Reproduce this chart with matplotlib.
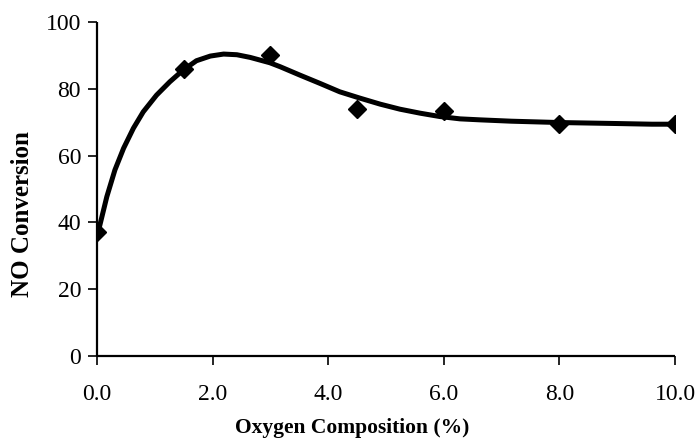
import matplotlib
matplotlib.use("Agg")
import matplotlib.pyplot as plt

# measured data points
oxygen = [0.0, 1.5, 3.0, 4.5, 6.0, 8.0, 10.0]
no_conv = [37.2, 85.8, 90.1, 74.0, 73.5, 69.6, 69.6]

# trend curve
curve_x = [0.0, 0.04, 0.17, 0.31, 0.46, 0.63, 0.80, 1.03, 1.26, 1.49, 1.72,
           1.96, 2.19, 2.42, 2.65, 2.99, 3.17, 3.51, 3.86, 4.20, 4.55, 4.90,
           5.24, 5.59, 5.93, 6.28, 6.63, 7.17, 8.0, 9.0, 9.6, 10.0]
curve_y = [37.2, 38.5, 47.7, 55.7, 62.2, 68.2, 73.1, 78.1, 82.1, 85.6, 88.4,
           89.8, 90.4, 90.2, 89.4, 87.8, 86.6, 84.1, 81.6, 79.1, 77.2, 75.4,
           73.9, 72.7, 71.7, 71.0, 70.7, 70.3, 69.9, 69.6, 69.4, 69.4]

xticks = [0, 2, 4, 6, 8, 10]
xticklabels = ["0.0", "2.0", "4.0", "6.0", "8.0", "10.0"]
yticks = [0, 20, 40, 60, 80, 100]

plt.rcParams['font.family'] = ['Liberation Serif', 'DejaVu Serif']

fig = plt.figure(figsize=(6.95, 4.46), dpi=100)
ax = fig.add_axes([97/695, 1-356/446, (675-97)/695, (356-22)/446])

ax.plot(curve_x, curve_y, color='black', lw=3.6, solid_capstyle='butt',
        solid_joinstyle='round', zorder=2)
ax.plot(oxygen, no_conv, linestyle='none', marker='D', markersize=9,
        color='black', zorder=3)

ax.set_xlim(0, 10)
ax.set_ylim(0, 100)
ax.set_xticks(xticks)
ax.set_xticklabels(xticklabels)
ax.set_yticks(yticks)

for s in ['top', 'right']:
    ax.spines[s].set_visible(False)
for s in ['left', 'bottom']:
    ax.spines[s].set_linewidth(1.6)
    ax.spines[s].set_color('black')
    ax.spines[s].set_capstyle('butt')

ax.tick_params(axis='x', direction='out', length=6.5, width=1.2, pad=14, labelsize=17)
ax.tick_params(axis='y', direction='out', length=6.5, width=1.2, pad=5, labelsize=17)

xl = ax.set_xlabel("Oxygen Composition (%)", fontsize=15.5, fontweight='bold')
ax.xaxis.set_label_coords((352.5-97)/578, (356-433)/334)
xl.set_va('baseline')

yl = ax.set_ylabel("NO Conversion", fontsize=18, fontweight='bold')
ax.yaxis.set_label_coords((22.5-97)/578, (356-214.5)/334)
yl.set_va('center')

fig.savefig("out.png", dpi=100)
